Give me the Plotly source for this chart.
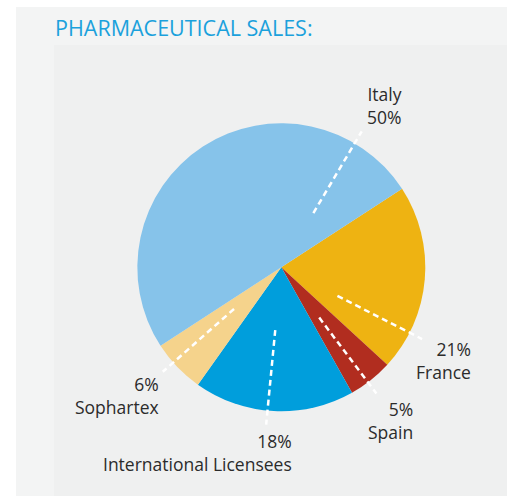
import math
import plotly.graph_objects as go

# ---- data ----
labels = ["France", "Spain", "International Licensees", "Sophartex", "Italy"]
values = [21, 5, 18, 6, 50]
colors = ["#eeb312", "#b12d1f", "#009edc", "#f5d38c", "#86c3ea"]
label_texts = ["21%<br>France", "5%<br>Spain", "18%<br>International Licensees",
               "6%<br>Sophartex", "Italy<br>50%"]

# ---- layout (pixels) ----
W, H = 507, 496
CX, CY, R = 281.3, 267.3, 144.0
ROTATION = 57
LEADER_ANGLE = [117, 143, 185.5, 228.6, 30.6]   # degrees clockwise from 12 o'clock
LEADER_R = (63, 158)
# right edge x, centre y of the two-line label block
LABEL_POS = [(472, 360), (413.5, 420), (293, 452.5), (159.5, 395), (402.5, 105.5)]


def px(x):
    return x / W


def py(y):
    return 1 - y / H


fig = go.Figure()
fig.add_trace(go.Pie(
    labels=labels, values=values, sort=False, direction="clockwise",
    rotation=ROTATION, marker=dict(colors=colors, line=dict(width=0)),
    textinfo="none", hoverinfo="skip", showlegend=False,
    domain=dict(x=[px(CX - R), px(CX + R)], y=[py(CY + R), py(CY - R)]),
))

shapes = [
    dict(type="rect", xref="paper", yref="paper", x0=px(16), x1=1, y0=0, y1=py(7),
         fillcolor="#f3f4f4", line=dict(width=0), layer="below"),
    dict(type="rect", xref="paper", yref="paper", x0=px(54), x1=1, y0=0, y1=py(45),
         fillcolor="#eff0f0", line=dict(width=0), layer="below"),
]
for ang in LEADER_ANGLE:
    a = math.radians(ang)
    x0, y0 = CX + LEADER_R[0] * math.sin(a), CY - LEADER_R[0] * math.cos(a)
    x1, y1 = CX + LEADER_R[1] * math.sin(a), CY - LEADER_R[1] * math.cos(a)
    shapes.append(dict(type="line", xref="paper", yref="paper",
                       x0=px(x0), y0=py(y0), x1=px(x1), y1=py(y1),
                       line=dict(color="white", width=2.5, dash="6px,4px"), layer="above"))

annotations = [dict(text="PHARMACEUTICAL SALES:", xref="paper", yref="paper",
                    x=px(53), y=py(28), xanchor="left", yanchor="middle", showarrow=False,
                    font=dict(family="Open Sans", size=21.5, color="#1ba1dc"))]
for t, (lx, ly) in zip(label_texts, LABEL_POS):
    annotations.append(dict(text=t, xref="paper", yref="paper", x=px(lx), y=py(ly),
                            xanchor="right", yanchor="middle", align="right",
                            borderpad=0, showarrow=False,
                            font=dict(family="Open Sans", size=17.5, color="#2b2b2b")))

fig.update_layout(width=W, height=H, margin=dict(l=0, r=0, t=0, b=0),
                  paper_bgcolor="white", plot_bgcolor="white",
                  shapes=shapes, annotations=annotations)
fig.write_html("out.html", config={"displayModeBar": False},
               post_script="document.body.style.margin='0';document.body.style.overflow='hidden';")
